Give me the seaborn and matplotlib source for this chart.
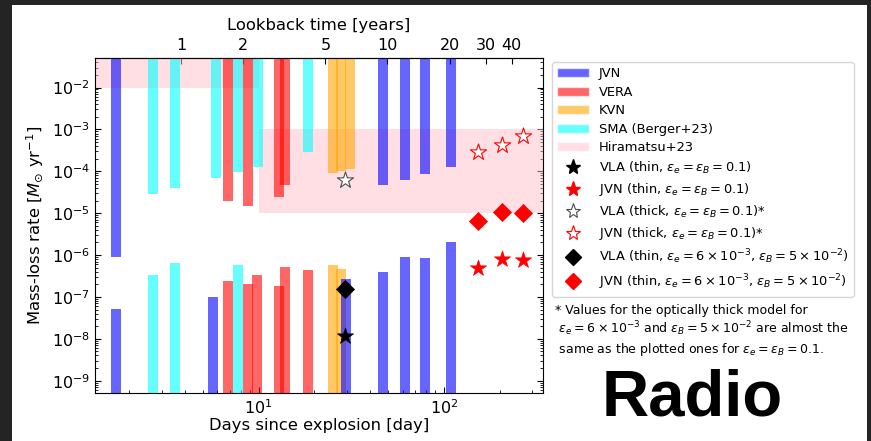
import numpy as np
import matplotlib
matplotlib.use('Agg')
import matplotlib.pyplot as plt
import seaborn as sns
from matplotlib.patches import Patch, Rectangle
from matplotlib.lines import Line2D
from matplotlib.ticker import NullLocator, LogLocator, FixedLocator

# Data (days since explosion, mass-loss rate in Msun/yr)
# upper bars run from the top of the plot down to the value, lower bars from the bottom up
jvn_upper_days = [1.71, 46.8, 61.8, 78.9, 109.0]
jvn_upper_rate = [9.1e-7, 4.6e-5, 6.2e-5, 8.7e-5, 1.25e-4]
jvn_lower_days = [1.71, 5.69, 29.8, 46.8, 61.8, 78.9, 109.0]
jvn_lower_rate = [5.1e-8, 1.0e-7, 2.65e-7, 4.0e-7, 9.0e-7, 8.5e-7, 2.0e-6]

vera_upper_days = [6.82, 8.75, 12.9, 13.9]
vera_upper_rate = [2.0e-5, 1.47e-5, 2.4e-5, 4.6e-5]
vera_lower_days = [6.82, 8.75, 9.8, 12.9, 13.9, 18.6]
vera_lower_rate = [2.4e-7, 2.05e-7, 3.3e-7, 1.8e-7, 5.1e-7, 4.3e-7]

kvn_upper_days = [25.1, 27.9, 31.0]
kvn_upper_rate = [9.2e-5, 1.0e-4, 1.15e-4]
kvn_lower_days = [25.1, 27.9]
kvn_lower_rate = [5.8e-7, 4.6e-7]

sma_upper_days = [2.69, 3.52, 5.86, 7.74, 9.88, 18.6]
sma_upper_rate = [2.8e-5, 4.0e-5, 7.0e-5, 9.5e-5, 1.3e-4, 2.9e-4]
sma_lower_days = [2.69, 3.52, 7.74]
sma_lower_rate = [3.4e-7, 6.6e-7, 5.8e-7]

# Hiramatsu+23 regions
hira_early_days = [1.0, 10.0]
hira_early_rate = [1e-2, 1.0]
hira_late_days = [10.0, 1000.0]
hira_late_rate = [1e-5, 1e-3]

# point estimates
vla_days = [29.4]
vla_thin = [1.16e-8]
vla_thick = [6.1e-5]
vla_thin_alt = [1.53e-7]
jvn_pt_days = [153.0, 207.0, 268.0]
jvn_thin = [4.8e-7, 7.9e-7, 7.6e-7]
jvn_thick = [2.9e-4, 4.2e-4, 6.8e-4]
jvn_thin_alt = [6.5e-6, 1.06e-5, 1.02e-5]

# axis ticks
day_ticks = [10, 100]
lookback_ticks = [1, 2, 5, 10, 20, 30, 40]

sns.set_style('ticks')
plt.rcParams['font.family'] = ['DejaVu Sans']
plt.rcParams['text.color'] = 'black'
plt.rcParams['axes.labelcolor'] = 'black'
plt.rcParams['axes.edgecolor'] = 'black'
plt.rcParams['xtick.color'] = 'black'
plt.rcParams['ytick.color'] = 'black'
plt.rcParams['mathtext.fontset'] = 'dejavusans'

fig = plt.figure(figsize=(8.71, 4.41), dpi=100, facecolor='#242424')
fig.patches.append(Rectangle((12 / 871, 0), 855 / 871, 436 / 441, transform=fig.transFigure,
                             facecolor='white', edgecolor='none', zorder=-5))

ax = fig.add_axes([95.0 / 871, 47.7 / 441, (543 - 95.0) / 871, 335 / 441])
ax.set_xscale('log')
ax.set_yscale('log')

# Hiramatsu+23 shaded areas
ax.fill_between(hira_early_days, hira_early_rate[0], hira_early_rate[1], color='pink', alpha=0.5, lw=0, zorder=1)
ax.fill_between(hira_late_days, hira_late_rate[0], hira_late_rate[1], color='pink', alpha=0.5, lw=0, zorder=1)

bar_lw = 7.2
top, bottom = 1.0, 1e-12
ax.vlines(sma_upper_days, sma_upper_rate, top, color='cyan', alpha=0.6, lw=bar_lw, zorder=2)
ax.vlines(sma_lower_days, bottom, sma_lower_rate, color='cyan', alpha=0.6, lw=bar_lw, zorder=2)
ax.vlines(vera_upper_days, vera_upper_rate, top, color='red', alpha=0.6, lw=bar_lw, zorder=2)
ax.vlines(vera_lower_days, bottom, vera_lower_rate, color='red', alpha=0.6, lw=bar_lw, zorder=2)
ax.vlines(kvn_upper_days, kvn_upper_rate, top, color='orange', alpha=0.6, lw=bar_lw, zorder=2)
ax.vlines(kvn_lower_days, bottom, kvn_lower_rate, color='orange', alpha=0.6, lw=bar_lw, zorder=2)
ax.vlines(jvn_upper_days, jvn_upper_rate, top, color='blue', alpha=0.6, lw=bar_lw, zorder=2)
ax.vlines(jvn_lower_days, bottom, jvn_lower_rate, color='blue', alpha=0.6, lw=bar_lw, zorder=2)

# markers
star_s = 150
dia_s = 85
sns.scatterplot(x=vla_days, y=vla_thin, marker='*', s=star_s, color='black', edgecolor='black', lw=0.5, ax=ax, zorder=4)
sns.scatterplot(x=jvn_pt_days, y=jvn_thin, marker='*', s=star_s, color='red', edgecolor='red', lw=0.5, ax=ax, zorder=4)
sns.scatterplot(x=vla_days, y=vla_thick, marker='*', s=star_s, color='white', edgecolor='0.3', lw=0.8, ax=ax, zorder=4)
sns.scatterplot(x=jvn_pt_days, y=jvn_thick, marker='*', s=star_s, color='white', edgecolor='red', lw=0.8, ax=ax, zorder=4)
sns.scatterplot(x=vla_days, y=vla_thin_alt, marker='D', s=dia_s, color='black', edgecolor='black', lw=0.5, ax=ax, zorder=4)
sns.scatterplot(x=jvn_pt_days, y=jvn_thin_alt, marker='D', s=dia_s, color='red', edgecolor='red', lw=0.5, ax=ax, zorder=4)

ax.set_xlim(1.31, 343)
ax.set_ylim(5e-10, 5e-2)
ax.xaxis.set_major_locator(FixedLocator(day_ticks))
ax.yaxis.set_major_locator(LogLocator(base=10, numticks=20))
ax.yaxis.set_minor_locator(LogLocator(base=10, subs=np.arange(2, 10), numticks=200))
ax.set_xlabel('Days since explosion [day]', fontsize=11.8, labelpad=1)
ax.set_ylabel(r'Mass-loss rate [$M_{\odot}$ yr$^{-1}$]', fontsize=11.8, labelpad=4)
ax.tick_params(which='both', direction='in', top=False, right=True, labelsize=11.5)
ax.tick_params(which='major', length=4)
ax.tick_params(which='minor', length=2)

# top axis: lookback time
secax = ax.secondary_xaxis('top', functions=(lambda d: (np.clip(d, 1e-6, None) / 3.82) ** 0.898,
                                             lambda y: 3.82 * np.clip(y, 1e-6, None) ** (1 / 0.898)))
secax.set_xticks(lookback_ticks, labels=[str(t) for t in lookback_ticks])
secax.xaxis.set_minor_locator(NullLocator())
secax.tick_params(direction='in', length=4, labelsize=11.5)
secax.set_xlabel('Lookback time [years]', fontsize=11.8, labelpad=6)

# legend
handles = [
    Patch(facecolor='blue', alpha=0.6, label='JVN'),
    Patch(facecolor='red', alpha=0.6, label='VERA'),
    Patch(facecolor='orange', alpha=0.6, label='KVN'),
    Patch(facecolor='cyan', alpha=0.6, label='SMA (Berger+23)'),
    Patch(facecolor='pink', alpha=0.5, label='Hiramatsu+23'),
    Line2D([], [], ls='none', marker='*', ms=11, color='black', label=r'VLA (thin, $\varepsilon_e = \varepsilon_B = 0.1$)'),
    Line2D([], [], ls='none', marker='*', ms=11, color='red', label=r'JVN (thin, $\varepsilon_e = \varepsilon_B = 0.1$)'),
    Line2D([], [], ls='none', marker='*', ms=11, mfc='white', mec='0.3', mew=0.8,
           label=r'VLA (thick, $\varepsilon_e = \varepsilon_B = 0.1$)*'),
    Line2D([], [], ls='none', marker='*', ms=11, mfc='white', mec='red', mew=0.8,
           label=r'JVN (thick, $\varepsilon_e = \varepsilon_B = 0.1$)*'),
    Line2D([], [], ls='none', marker='D', ms=8.5, color='black',
           label=r'VLA (thin, $\varepsilon_e = 6\times10^{-3}$, $\varepsilon_B = 5\times10^{-2}$)'),
    Line2D([], [], ls='none', marker='D', ms=8.5, color='red',
           label=r'JVN (thin, $\varepsilon_e = 6\times10^{-3}$, $\varepsilon_B = 5\times10^{-2}$)'),
]
fig.legend(handles=handles, loc='upper left', bbox_to_anchor=(552 / 871, 1 - 62 / 441),
           fontsize=9.4, handlelength=2.4, handletextpad=0.8, labelspacing=0.42, borderpad=0.4,
           borderaxespad=0, frameon=True)

fig.text(555 / 871, 1 - 304 / 441,
         '* Values for the optically thick model for\n'
         r' $\varepsilon_e = 6\times10^{-3}$ and $\varepsilon_B = 5\times10^{-2}$ are almost the' '\n'
         r' same as the plotted ones for $\varepsilon_e = \varepsilon_B = 0.1$.',
         fontsize=9, va='top', ha='left', linespacing=1.2)

fig.text(692 / 871, 1 - 415 / 441, 'Radio', fontsize=47, weight='bold',
         family=['Liberation Sans', 'DejaVu Sans'], ha='center', va='baseline')

fig.savefig('out.png', dpi=100)
